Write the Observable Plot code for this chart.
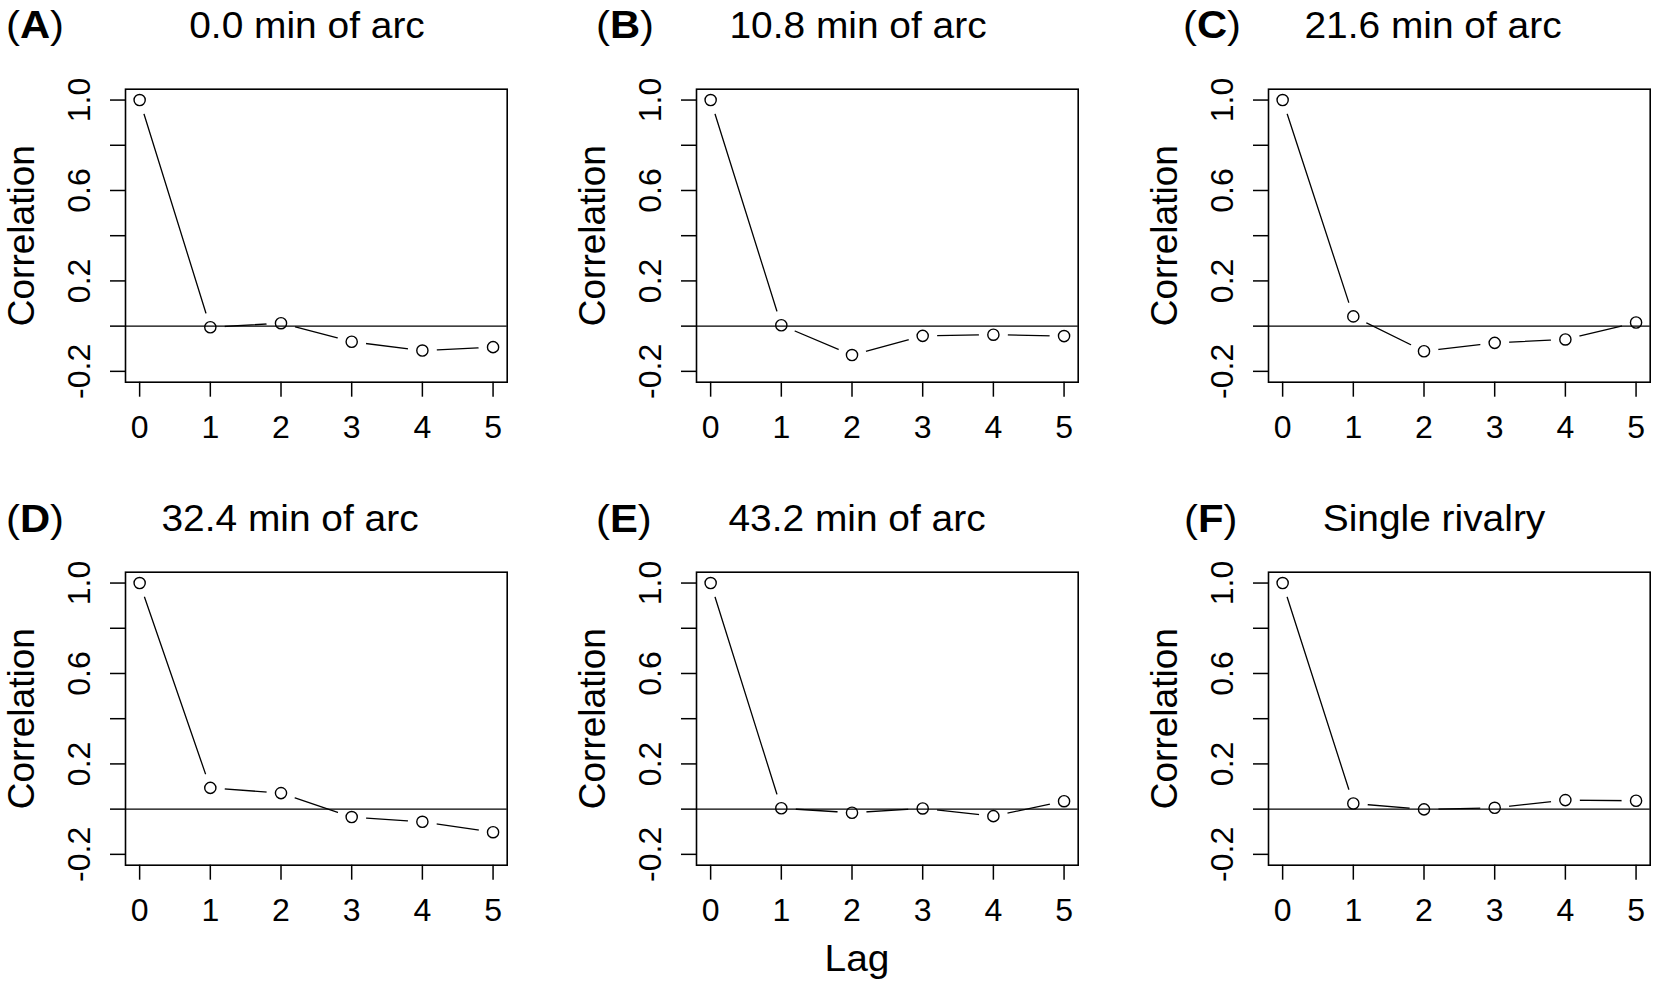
<!DOCTYPE html>
<html><head><meta charset="utf-8">
<script src="https://cdn.jsdelivr.net/npm/d3@7"></script>
<script src="https://cdn.jsdelivr.net/npm/@observablehq/plot@0.6"></script>
<style>
html,body{margin:0;padding:0;background:#fff;overflow:hidden}
#wrap{position:relative;width:1654px;height:982px;background:#fff;font-family:"Liberation Sans",Arial,Helvetica,sans-serif;color:#000}
.panel{position:absolute}
.lbl{position:absolute;font-size:36px;line-height:36px;white-space:nowrap}
.ctr{transform:translateX(-50%) scaleX(1.08)}
.let{font-size:38px;line-height:38px;transform:scaleX(1.1);transform-origin:left center}
</style></head><body><div id="wrap"></div>
<script>
// ---- data ----
const lags = [0, 1, 2, 3, 4, 5];
const acfA = [1.0, -0.005, 0.013, -0.069, -0.108, -0.093];
const acfB = [1.0, 0.004, -0.128, -0.043, -0.038, -0.044];
const acfC = [1.0, 0.043, -0.111, -0.074, -0.059, 0.016];
const acfD = [1.0, 0.094, 0.071, -0.035, -0.056, -0.102];
const acfE = [1.0, 0.004, -0.016, 0.003, -0.031, 0.035];
const acfF = [1.0, 0.025, -0.001, 0.006, 0.040, 0.037];
const panelLetters = ["A", "B", "C", "D", "E", "F"];
const panelTitles = ["0.0 min of arc", "10.8 min of arc", "21.6 min of arc", "32.4 min of arc", "43.2 min of arc", "Single rivalry"];
const xTicks = [0, 1, 2, 3, 4, 5];
const yTicks = [-0.2, 0, 0.2, 0.4, 0.6, 0.8, 1.0];
const yTickLabels = [-0.2, 0.2, 0.6, 1.0];
const xLabel = "Lag";
const yLabel = "Correlation";

// ---- layout ----
const series = [acfA, acfB, acfC, acfD, acfE, acfF];
const svgLeft = [0, 571.4, 1143.4];
const svgTop = [0, 483.3];
const titleCenter = [307, 858.4, 1433.3, 290.3, 857, 1433.6];
const letterLeft = [6.3, 596, 1182.7, 6.3, 596, 1184.4];
const titleBaseline = [38.3, 531.7];
const FONT = '"Liberation Sans", Arial, Helvetica, sans-serif';

function panel(values) {
  const data = lags.map((lag, i) => ({lag, r: values[i]}));
  return Plot.plot({
    width: 510, height: 442,
    marginLeft: 125, marginRight: 3.3, marginTop: 88.7, marginBottom: 60.3,
    x: {domain: [-0.2, 5.2]},
    y: {domain: [-0.248, 1.048]},
    style: {fontFamily: FONT, fontSize: "32px", color: "#000", background: "transparent", overflow: "visible"},
    marks: [
      Plot.line(data, {x: "lag", y: "r", stroke: "#000", strokeWidth: 1.3}),
      Plot.dot(data, {x: "lag", y: "r", r: 14.5, fill: "#fff", stroke: "none"}),
      Plot.dot(data, {x: "lag", y: "r", r: 5.6, fill: "#fff", stroke: "#000", strokeWidth: 1.4}),
      Plot.ruleY([0], {stroke: "#000", strokeWidth: 1.3}),
      Plot.frame({stroke: "#000", strokeWidth: 1.6}),
      Plot.axisX({ticks: xTicks, tickSize: 15, tickPadding: 18, tickFormat: d => String(d), fontSize: 32, strokeWidth: 1.5, label: null}),
      Plot.axisY({ticks: yTicks, tickSize: 15, tickPadding: 21, tickRotate: -90,
        tickFormat: d => yTickLabels.some(v => Math.abs(v - d) < 1e-9) ? d.toFixed(1) : "",
        fontSize: 32, strokeWidth: 1.5, label: null}),
      Plot.text([yLabel], {frameAnchor: "left", rotate: -90, dx: -118, textAnchor: "middle", lineAnchor: "top", fontSize: 37, fill: "#000"})
    ]
  });
}

const wrap = document.getElementById("wrap");
series.forEach((vals, i) => {
  const col = i % 3, row = Math.floor(i / 3);
  const svg = panel(vals);
  svg.classList.add("panel");
  svg.style.left = svgLeft[col] + "px";
  svg.style.top = svgTop[row] + "px";
  wrap.appendChild(svg);

  const letter = document.createElement("div");
  letter.className = "lbl let";
  letter.style.left = letterLeft[i] + "px";
  letter.style.top = (titleBaseline[row] - 32.2) + "px";
  letter.innerHTML = "(<b>" + panelLetters[i] + "</b>)";
  wrap.appendChild(letter);

  const title = document.createElement("div");
  title.className = "lbl ctr";
  title.style.left = titleCenter[i] + "px";
  title.style.top = (titleBaseline[row] - 30.5) + "px";
  title.textContent = panelTitles[i];
  wrap.appendChild(title);
});

const lag = document.createElement("div");
lag.className = "lbl ctr";
lag.style.left = "857px";
lag.style.top = (971.7 - 30.5) + "px";
lag.textContent = xLabel;
wrap.appendChild(lag);
</script>
</body></html>
